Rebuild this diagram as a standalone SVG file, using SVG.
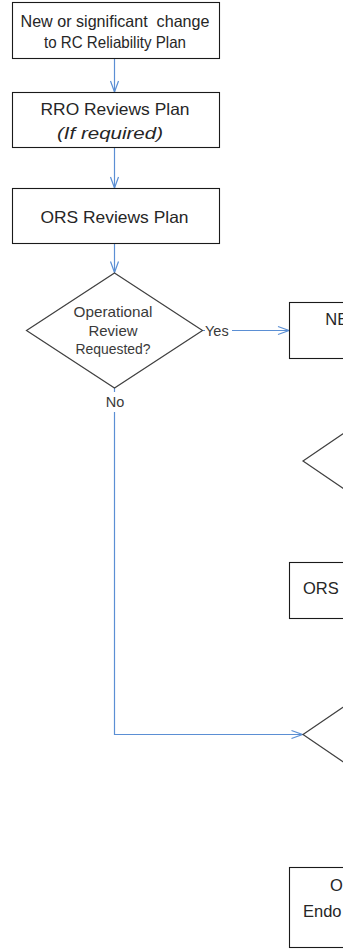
<svg xmlns="http://www.w3.org/2000/svg" width="343" height="951" viewBox="0 0 343 951">
<style>
.box{fill:#fff;stroke:#1a1a1a;stroke-width:1.1}
.dia{fill:#fff;stroke:#404040;stroke-width:1.2}
.t{font-family:"Liberation Sans",Arial,sans-serif;font-size:16.5px;fill:#262626}
.ts{font-family:"Liberation Sans",Arial,sans-serif;font-size:14.5px;fill:#3a3a3a}
.c{text-anchor:middle}
.con{fill:none;stroke:#5b8fd4;stroke-width:1.2}
.lbg{fill:#fff}
</style>
<defs>
<marker id="ah" markerUnits="userSpaceOnUse" markerWidth="13" markerHeight="10" refX="11" refY="4.5" orient="auto" overflow="visible">
<path d="M0,0.5 L11,4.5 L0,8.5" fill="none" stroke="#5b8fd4" stroke-width="1.2"/>
</marker>
</defs>
<g id="connectors">
<line class="con" x1="114.5" y1="58.5" x2="114.5" y2="92" marker-end="url(#ah)"/>
<line class="con" x1="114.5" y1="147.5" x2="114.5" y2="188" marker-end="url(#ah)"/>
<line class="con" x1="114.5" y1="243.5" x2="114.5" y2="272.5" marker-end="url(#ah)"/>
<line class="con" x1="202.5" y1="330.5" x2="289" y2="330.5" marker-end="url(#ah)"/>
<path class="con" d="M114.5,388 V734.5 H302.5" marker-end="url(#ah)"/>
<rect class="lbg" x="205" y="322" width="27" height="17"/>
<text class="ts" x="205" y="336">Yes</text>
<rect class="lbg" x="104" y="392" width="22" height="20"/>
<text class="ts c" x="115" y="407">No</text>
</g>
<g id="n1">
<rect class="box" x="12.5" y="2.5" width="207" height="56"/>
<text class="t c" x="115" y="26.5" xml:space="preserve" textLength="189" lengthAdjust="spacingAndGlyphs">New or significant  change</text>
<text class="t c" x="115" y="47.5" textLength="142" lengthAdjust="spacingAndGlyphs">to RC Reliability Plan</text>
</g>
<g id="n2">
<rect class="box" x="12.5" y="92.5" width="207" height="55"/>
<text class="t c" x="115" y="114.5" textLength="149" lengthAdjust="spacingAndGlyphs">RRO Reviews Plan</text>
<text class="t c" x="110" y="138.5" font-style="italic" textLength="106" lengthAdjust="spacingAndGlyphs">(If required)</text>
</g>
<g id="n3">
<rect class="box" x="12.5" y="188.5" width="207" height="55"/>
<text class="t c" x="114.5" y="223" textLength="148" lengthAdjust="spacingAndGlyphs">ORS Reviews Plan</text>
</g>
<g id="d1">
<polygon class="dia" points="114.5,273 202.5,330.5 114.5,388 26.5,330.5"/>
<text class="ts c" x="113" y="317" textLength="79" lengthAdjust="spacingAndGlyphs">Operational</text>
<text class="ts c" x="113" y="335.5" textLength="49" lengthAdjust="spacingAndGlyphs">Review</text>
<text class="ts c" x="113" y="354" textLength="75" lengthAdjust="spacingAndGlyphs">Requested?</text>
</g>
<g id="n4">
<rect class="box" x="289.5" y="302.5" width="207" height="56"/>
<text class="t" x="325.3" y="325">NE</text>
</g>
<g id="d2">
<polygon class="dia" points="303,461 391,401 479,461 391,521"/>
</g>
<g id="n5">
<rect class="box" x="289.5" y="562.5" width="207" height="56"/>
<text class="t" x="303" y="594">ORS</text>
</g>
<g id="d3">
<polygon class="dia" points="303,734.5 391,674.5 479,734.5 391,794.5"/>
</g>
<g id="n6">
<rect class="box" x="289.5" y="867.5" width="207" height="80"/>
<text class="t" x="330" y="890.5">O</text>
<text class="t" x="303" y="916.5">Endo</text>
</g>
</svg>
